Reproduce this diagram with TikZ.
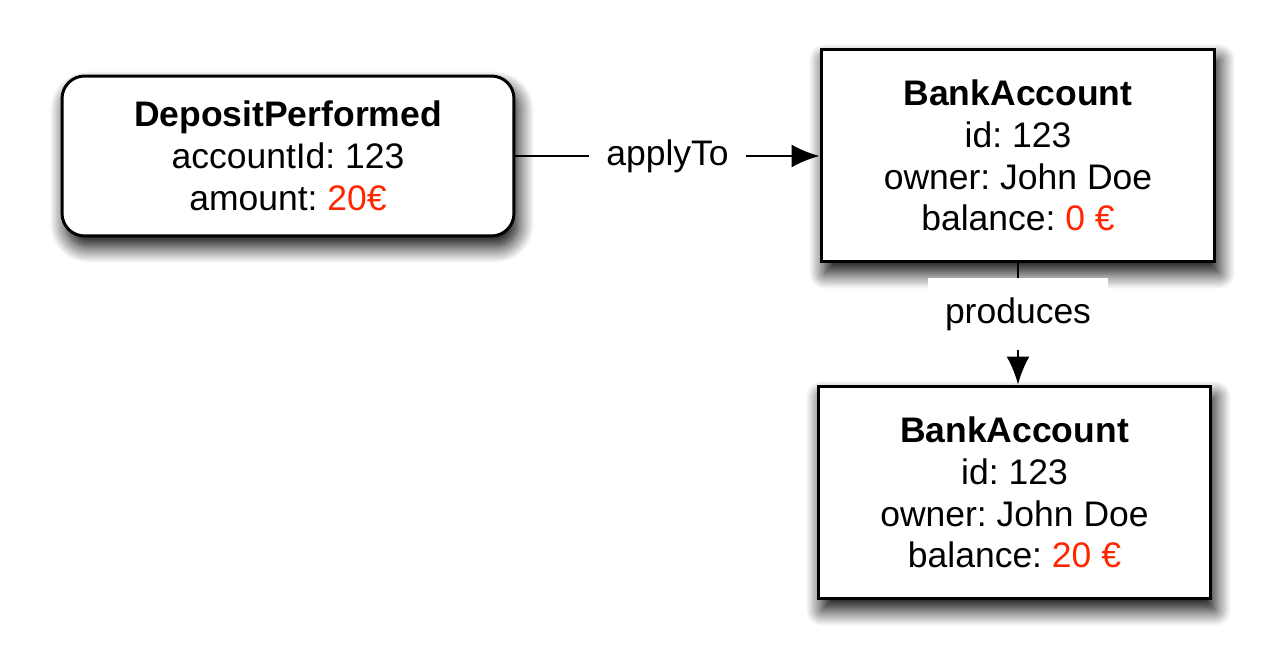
\documentclass[tikz,border=0pt]{standalone}
\usepackage{fontspec}
\setmainfont{Liberation Sans}
\usetikzlibrary{arrows.meta,shadows.blur}
\definecolor{valred}{RGB}{255,38,0}
\frenchspacing
\begin{document}
\begin{tikzpicture}[x=0.02cm,y=-0.02cm,
  txt/.style={font=\frenchspacing\fontsize{20.2}{23.8}\selectfont, align=center},
  shad/.style={blur shadow={shadow xshift=0.08cm, shadow yshift=-0.22cm, shadow blur radius=0.32cm, shadow blur steps=14, shadow opacity=100}},
  evtbox/.style={txt, draw=black, line width=1.7pt, fill=white, rounded corners=0.45cm, minimum width=9.04cm, minimum height=3.2cm, inner sep=0pt, shad},
  aggbox/.style={txt, draw=black, line width=1.7pt, fill=white, minimum width=7.88cm, minimum height=4.26cm, inner sep=0pt, shad},
  lbl/.style={txt, fill=white, inner sep=0pt, minimum height=1.44cm},
  arr/.style={line width=1.4pt, -{Latex[length=0.56cm,width=0.46cm]}}
]
\useasboundingbox (0,0) rectangle (1275,672);
\node[evtbox] (dep) at (288,156) {\textbf{DepositPerformed}\\accountId: 123\\amount: \textcolor{valred}{20€}};
\node[aggbox] (ba1) at (1018,155.5) {\textbf{BankAccount}\\id: 123\\owner: John Doe\\balance: \textcolor{valred}{0 €}};
\node[aggbox, minimum width=7.86cm] (ba2) at (1014.5,492.5) {\textbf{BankAccount}\\id: 123\\owner: John Doe\\balance: \textcolor{valred}{20 €}};
\draw[arr] (dep.east) -- node[lbl, minimum width=3.14cm] {applyTo} (dep.east -| ba1.west);
\draw[arr] (ba1.south) -- node[lbl, pos=0.42, minimum width=3.6cm] {produces} (ba1.south |- ba2.north);
\end{tikzpicture}
\end{document}
